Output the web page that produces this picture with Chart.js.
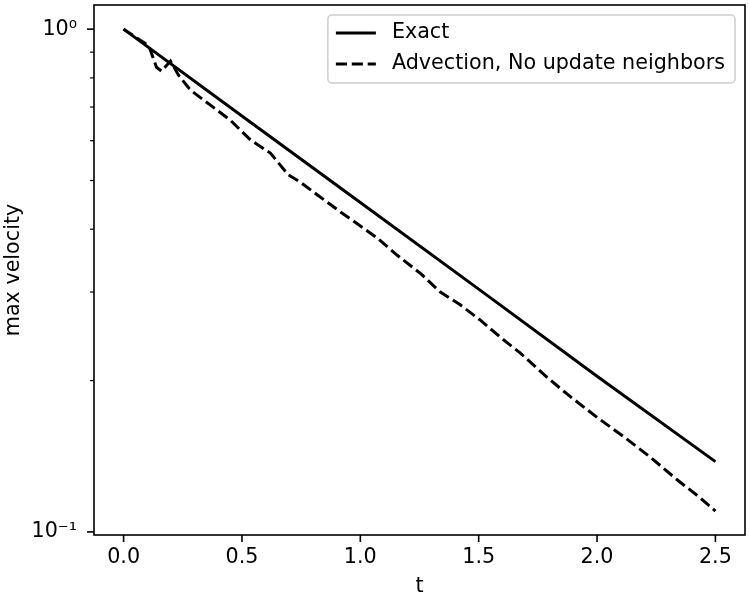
<!DOCTYPE html>
<html><head><meta charset="utf-8">
<script src="https://cdn.jsdelivr.net/npm/chart.js@4/dist/chart.umd.min.js"></script>
<style>html,body{margin:0;padding:0;background:#fff}#wrap{width:750px;height:600px}</style>
</head><body><div id="wrap"><canvas id="c" width="750" height="600"></canvas></div>
<script>
// ---- data ----
const seriesLabels = ['Exact', 'Advection, No update neighbors'];
const exactT = [0, 0.5, 1.0, 1.5, 2.0, 2.5];
const exactV = [1.0, 0.672, 0.452, 0.304, 0.204, 0.138];
const advT = [0, 0.093, 0.110, 0.139, 0.160, 0.198, 0.232, 0.283, 0.367, 0.451, 0.536, 0.620, 0.696, 0.747, 0.819, 0.916, 1.013, 1.072, 1.156, 1.253, 1.338, 1.422, 1.506, 1.591, 1.675, 1.789, 1.886, 2.0, 2.110, 2.224, 2.338, 2.435, 2.5];
const advV = [1.0, 0.936, 0.917, 0.840, 0.825, 0.864, 0.810, 0.756, 0.706, 0.659, 0.602, 0.567, 0.513, 0.496, 0.468, 0.433, 0.402, 0.384, 0.355, 0.327, 0.300, 0.283, 0.264, 0.244, 0.227, 0.203, 0.186, 0.169, 0.155, 0.141, 0.127, 0.117, 0.110];
const xTickValues = [0, 0.5, 1.0, 1.5, 2.0, 2.5];
const yMajorTicks = [0.1, 1];
const yMajorLabels = ['10\u207B\u00B9', '10\u2070'];
const yMinorTicks = [0.2, 0.3, 0.4, 0.5, 0.6, 0.7, 0.8, 0.9];
const xTitle = 't';
const yTitle = 'max velocity';

const FONT = 'DejaVu Sans';
const FS = 20.7;
const toPts = (xs, ys) => xs.map((x, i) => ({x: x, y: ys[i]}));

const decor = {
  id: 'decor',
  afterDraw(chart) {
    const {ctx, chartArea: a, scales: {x, y}} = chart;
    ctx.save();
    ctx.strokeStyle = '#000';
    const seg = (x1, y1, x2, y2) => { ctx.beginPath(); ctx.moveTo(x1, y1); ctx.lineTo(x2, y2); ctx.stroke(); };
    ctx.lineWidth = 1.6;
    xTickValues.forEach(v => { const p = x.getPixelForValue(v); seg(p, a.bottom, p, a.bottom + 7); });
    yMajorTicks.forEach(v => { const p = y.getPixelForValue(v); seg(a.left - 7, p, a.left, p); });
    ctx.lineWidth = 1.2;
    yMinorTicks.forEach(v => { const p = y.getPixelForValue(v); seg(a.left - 4, p, a.left, p); });
    ctx.lineWidth = 1.6;
    ctx.strokeRect(a.left, a.top, a.right - a.left, a.bottom - a.top);

    // legend (matplotlib style, upper right inside axes)
    ctx.font = FS + 'px "' + FONT + '"';
    const ds = chart.data.datasets;
    let tw = 0;
    ds.forEach(d => { tw = Math.max(tw, ctx.measureText(d.label).width); });
    const pad = 8, hl = 40, htp = 16, rowH = 31;
    const w = pad + hl + htp + tw + pad + 2;
    const h = 68;
    const rx = a.right - 10 - w, ry = a.top + 10;
    const r = 4;
    ctx.beginPath();
    ctx.moveTo(rx + r, ry);
    ctx.arcTo(rx + w, ry, rx + w, ry + h, r);
    ctx.arcTo(rx + w, ry + h, rx, ry + h, r);
    ctx.arcTo(rx, ry + h, rx, ry, r);
    ctx.arcTo(rx, ry, rx + w, ry, r);
    ctx.closePath();
    ctx.fillStyle = 'rgba(255,255,255,0.8)';
    ctx.fill();
    ctx.strokeStyle = '#cccccc';
    ctx.lineWidth = 1.5;
    ctx.stroke();
    ds.forEach((d, i) => {
      const cy = ry + 18 + i * rowH;
      ctx.strokeStyle = '#000';
      ctx.lineWidth = 3;
      ctx.setLineDash(d.borderDash || []);
      seg(rx + pad, cy, rx + pad + hl, cy);
      ctx.setLineDash([]);
      ctx.fillStyle = '#000';
      ctx.textBaseline = 'middle';
      ctx.textAlign = 'left';
      ctx.fillText(d.label, rx + pad + hl + htp, cy);
    });
    ctx.restore();
  }
};

new Chart(document.getElementById('c'), {
  type: 'line',
  data: {
    datasets: [
      {label: seriesLabels[0], data: toPts(exactT, exactV), borderColor: '#000', borderWidth: 3, pointRadius: 0, fill: false, tension: 0},
      {label: seriesLabels[1], data: toPts(advT, advV), borderColor: '#000', borderWidth: 3, borderDash: [11.1, 4.8], pointRadius: 0, fill: false, tension: 0}
    ]
  },
  options: {
    responsive: false,
    animation: false,
    devicePixelRatio: 1,
    layout: {padding: {top: 5, right: 5, left: 0, bottom: 0}},
    plugins: {legend: {display: false}, tooltip: {enabled: false}},
    scales: {
      x: {
        type: 'linear', min: -0.125, max: 2.625,
        afterBuildTicks: s => { s.ticks = xTickValues.map(v => ({value: v})); },
        afterFit: s => { s.height = 65; s.paddingLeft = 0; s.paddingRight = 0; },
        grid: {display: false, drawTicks: false},
        border: {display: false},
        ticks: {padding: 10, color: '#000', font: {family: FONT, size: FS}, callback: v => Number(v).toFixed(1), maxRotation: 0, autoSkip: false},
        title: {display: true, text: xTitle, color: '#000', font: {family: FONT, size: FS}, padding: {top: 0, bottom: 1}}
      },
      y: {
        type: 'logarithmic', min: 0.0986, max: 1.117,
        afterBuildTicks: s => { s.ticks = yMajorTicks.concat(yMinorTicks).sort((p, q) => p - q).map(v => ({value: v})); },
        afterFit: s => { s.width = 94; s.paddingTop = 0; s.paddingBottom = 0; },
        grid: {display: false, drawTicks: false},
        border: {display: false},
        ticks: {
          padding: 17, color: '#000', font: {family: FONT, size: FS}, autoSkip: false,
          callback: v => { const i = yMajorTicks.findIndex(m => Math.abs(m - v) < 1e-9); return i >= 0 ? yMajorLabels[i] : ''; }
        },
        title: {display: true, text: yTitle, color: '#000', font: {family: FONT, size: FS}, padding: {top: 1, bottom: 0}}
      }
    }
  },
  plugins: [decor]
});
</script>
</body></html>
